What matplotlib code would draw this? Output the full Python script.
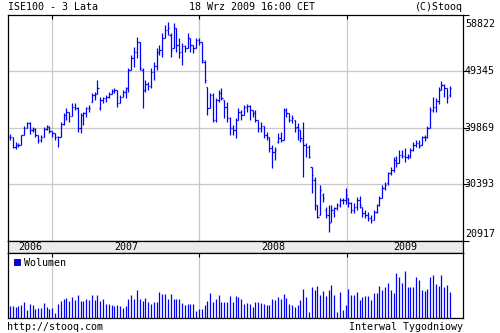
import matplotlib
matplotlib.use("Agg")
import matplotlib.pyplot as plt
import matplotlib.dates as mdates
import matplotlib.transforms as mtransforms
import pandas as pd
from matplotlib.patches import Rectangle

# weekly bars, ISE100, last 3 years
dates = pd.date_range("2006-09-18", periods=157, freq="7D")

opens = [38320, 38320, 36650, 36980, 36980, 38660, 39830, 40670, 39490, 39660,
         38660, 37820, 38320, 39660, 40000, 39330, 38990, 38320, 38320, 40500,
         42000, 42510, 41840, 43340, 43180, 39830, 42000, 42340, 43180, 44180,
         45350, 45520, 43180, 44510, 44850, 45020, 45520, 46020, 46190, 44010,
         45020, 45850, 46520, 49530, 51540, 52550, 54220, 49530, 46190, 47190,
         46860, 49200, 50200, 52550, 52880, 54890, 56230, 55390, 53220, 56560,
         53720, 52550, 53550, 53220, 54890, 53720, 53220, 54560, 54220, 50870,
         46690, 43180, 45350, 41170, 44510, 45690, 44510, 43340, 41500, 39830,
         39490, 41170, 42510, 42000, 43340, 43510, 42840, 42340, 41170, 39830,
         40160, 38660, 38320, 36480, 35810, 37490, 38160, 37820, 42840, 42340,
         41170, 41170, 40000, 39490, 37820, 36980, 36650, 33300, 31130, 26940,
         25270, 28620, 26110, 25270, 24100, 25600, 26440, 26940, 27780, 27780,
         28110, 27280, 26110, 26610, 27780, 26610, 25600, 25270, 24770, 24430,
         25770, 26940, 28110, 29790, 30620, 32300, 32800, 34470, 33970, 35310,
         35140, 34980, 35140, 36150, 36980, 37320, 36980, 38320, 38320, 39830,
         42840, 43340, 44350, 46190, 47020, 46520, 45350]
highs = [38820, 38320, 37490, 37320, 38660, 40160, 40830, 40830, 40000, 39830,
         38660, 38660, 40000, 40330, 40160, 39330, 38990, 38490, 40830, 42340,
         43180, 42510, 44010, 44010, 43340, 42340, 42510, 43340, 43680, 45690,
         45850, 47860, 45020, 45020, 45350, 45850, 46360, 46520, 46190, 45350,
         46190, 46690, 49870, 52040, 53380, 55060, 54220, 49870, 47860, 47530,
         49870, 50870, 53220, 53720, 55730, 57070, 57570, 55730, 57400, 56560,
         54890, 54050, 53720, 55730, 54890, 53720, 54890, 54890, 54220, 51210,
         46690, 45690, 45690, 44850, 46190, 46520, 44510, 44180, 41670, 40330,
         41500, 43180, 42840, 43680, 43850, 43680, 42840, 42840, 41170, 40830,
         40160, 39160, 38320, 36980, 36650, 38990, 39160, 43180, 43180, 42340,
         42000, 41170, 40670, 39490, 40830, 37320, 36980, 33300, 31630, 26940,
         30290, 28950, 26610, 26940, 26940, 26610, 27280, 28110, 28110, 29790,
         28110, 27440, 27280, 28280, 28450, 26610, 26110, 25770, 25270, 26110,
         27110, 28450, 30290, 30790, 32470, 33300, 34980, 35140, 36150, 36150,
         36480, 35480, 36480, 37490, 37820, 37820, 38490, 38660, 40160, 43340,
         45020, 44850, 46690, 47690, 47190, 46520, 46860]
lows = [37820, 36480, 36310, 36650, 36980, 38660, 39830, 38820, 39160, 38320,
        37320, 37490, 38320, 39490, 38990, 38320, 37820, 36650, 38320, 40330,
        41170, 40830, 41840, 42840, 39160, 38990, 40330, 41670, 42510, 44180,
        44510, 45520, 42840, 44010, 44180, 44850, 45520, 45690, 43340, 44010,
        45020, 44850, 45850, 49530, 50040, 51540, 49530, 43180, 45850, 46190,
        46520, 47860, 49530, 52040, 51710, 54890, 55390, 51710, 53220, 52550,
        51540, 50370, 52550, 53220, 52550, 52380, 53220, 53720, 50710, 47360,
        42000, 43180, 40830, 40830, 44180, 44510, 41500, 40830, 38660, 38660,
        38160, 41170, 41170, 42000, 42510, 41170, 41670, 40830, 39160, 39160,
        38160, 37820, 35810, 33130, 34470, 37320, 37490, 37820, 41670, 40830,
        40670, 39160, 37820, 37490, 31630, 34980, 34810, 28950, 26110, 24770,
        25270, 27440, 24770, 22420, 24100, 24930, 26110, 26610, 27110, 27110,
        26610, 25600, 25600, 26110, 26440, 24930, 24770, 24270, 23930, 24430,
        25600, 26780, 28110, 29450, 30290, 31960, 32470, 33300, 33970, 34810,
        34140, 34640, 34810, 35980, 36650, 36480, 36980, 37650, 38160, 39830,
        42510, 42510, 43850, 46190, 45020, 44010, 45020]
closes = [38320, 36650, 36980, 36980, 38660, 39830, 40670, 39490, 39660, 38660,
          37820, 38320, 39660, 40160, 39330, 38990, 38320, 38320, 40500, 42000,
          42510, 41840, 43340, 43180, 39830, 42000, 42340, 43180, 43180, 45350,
          45520, 46520, 44510, 44850, 45020, 45520, 46020, 46190, 44010, 45020,
          45850, 46520, 49530, 51540, 52550, 54220, 49870, 46190, 47190, 46860,
          49200, 50200, 52550, 52880, 54890, 56230, 56560, 52880, 56560, 53720,
          52550, 53550, 53220, 54890, 53720, 53220, 54560, 54220, 51210, 47860,
          43180, 45350, 41170, 44510, 45690, 44850, 43340, 41500, 39830, 39490,
          41170, 42510, 42000, 43340, 43510, 42840, 42340, 41170, 39830, 40160,
          38660, 38320, 36480, 35810, 36150, 38160, 37820, 42840, 42340, 41170,
          41500, 39830, 39490, 38160, 36980, 36650, 34980, 31960, 26940, 24930,
          29450, 28110, 25270, 23930, 26110, 26440, 26940, 27780, 27780, 28620,
          27280, 26110, 26610, 27780, 26940, 25600, 25270, 24770, 24430, 25770,
          26940, 28110, 29790, 30290, 32300, 32800, 34470, 33970, 35310, 35140,
          34980, 35140, 36150, 36980, 37320, 36820, 38320, 38160, 39830, 42840,
          43340, 44350, 46190, 47020, 46520, 45020, 46520]
volume = [11.7, 11.7, 11.0, 11.7, 12.7, 16.0, 7.7, 13.7, 12.7, 9.3,
          10.3, 10.3, 15.0, 11.0, 9.3, 10.3, 5.0, 14.3, 16.7, 18.7,
          20.0, 17.0, 21.0, 17.7, 22.7, 16.7, 16.7, 18.7, 17.7, 22.7,
          18.3, 22.7, 16.7, 19.3, 14.3, 13.7, 12.7, 11.7, 12.7, 11.7,
          10.0, 11.7, 19.3, 22.7, 18.7, 27.7, 19.3, 16.7, 20.3, 16.0,
          13.7, 16.0, 16.0, 26.0, 23.7, 23.7, 19.3, 23.7, 19.3, 19.3,
          19.3, 15.3, 12.7, 13.7, 13.7, 13.7, 6.7, 8.7, 8.7, 12.7,
          16.7, 25.0, 16.0, 18.7, 22.7, 16.0, 16.0, 16.0, 21.7, 16.0,
          21.7, 21.0, 19.3, 14.3, 15.3, 14.3, 10.7, 15.7, 15.7, 14.7,
          14.0, 13.3, 13.3, 19.0, 18.3, 20.7, 19.0, 24.0, 20.0, 14.0,
          13.3, 11.3, 13.3, 18.3, 29.0, 20.7, 5.7, 31.3, 28.3, 32.3,
          23.3, 26.7, 22.3, 28.3, 33.3, 23.3, 5.7, 26.3, 8.3, 13.3,
          29.0, 23.3, 23.3, 26.3, 18.3, 21.3, 22.3, 21.7, 18.3, 25.0,
          24.7, 32.3, 28.3, 31.3, 34.7, 28.3, 25.0, 44.7, 40.7, 34.7,
          46.7, 31.3, 31.3, 31.3, 40.7, 38.3, 28.3, 27.3, 29.0, 40.7,
          43.3, 34.3, 32.3, 43.3, 30.7, 33.3, 25.7]

price_levels = [20917, 30393, 39869, 49345, 58822]
years = ["2006", "2007", "2008", "2009"]
year_starts = ["2007-01-01", "2008-01-01", "2009-01-01"]

W, H = 500, 333
BLUE = "#0000ff"
GRID = "#c8c8c8"
FONT = "DejaVu Sans Mono"


def px_rect(x0, y0, x1, y1):
    return [x0 / W, 1 - y1 / H, (x1 - x0) / W, (y1 - y0) / H]


fig = plt.figure(figsize=(W / 100, H / 100), dpi=100)
fig.patch.set_facecolor("white")

ax = fig.add_axes(px_rect(8, 15, 463, 240.5))
ax_strip = fig.add_axes(px_rect(8, 240.5, 463, 253))
ax_vol = fig.add_axes(px_rect(8, 253, 463, 318))

x = mdates.date2num(dates)
week = 7.0
x_left = x[0] - 0.71 * week
x_right = x[0] + 160.64 * week
bounds = mdates.date2num(pd.to_datetime(year_starts))
tw = 0.45 * week

# price bars
ax.vlines(x, lows, highs, color=BLUE, lw=0.9)
ax.hlines(opens, x - tw, x, color=BLUE, lw=0.9)
ax.hlines(closes, x, x + tw, color=BLUE, lw=0.9)
ax.set_xlim(x_left, x_right)
ax.set_ylim(price_levels[0], price_levels[-1])
for lv in price_levels[1:-1]:
    ax.axhline(lv, color=GRID, lw=0.9, zorder=0)
for b in bounds:
    ax.axvline(b, color=GRID, lw=0.9, zorder=0)
ax.set_xticks(bounds)
ax.set_xticklabels([])
ax.tick_params(axis="x", direction="in", top=True, bottom=False, length=3, width=0.8, color="black")
ax.set_yticks(price_levels)
ax.set_yticklabels([])
ax.yaxis.tick_right()
ax.tick_params(axis="y", direction="out", right=True, left=False, length=4, width=0.8)
for lv in price_levels:
    dy = 0
    if lv == price_levels[-1]:
        dy = -9
    elif lv == price_levels[0]:
        dy = 6.5
    tr = mtransforms.offset_copy(ax.get_yaxis_transform(), fig=fig, y=dy, units="dots")
    ax.text(1.004, lv, str(lv), transform=tr, ha="left", va="center",
            fontsize=7.2, family=FONT)

# year strip
ax_strip.set_facecolor("#ebebeb")
ax_strip.set_xlim(x_left, x_right)
ax_strip.set_ylim(0, 1)
ax_strip.set_xticks([])
ax_strip.set_yticks([])
edges = [x_left] + list(bounds) + [x_right]
for i, yr in enumerate(years):
    ax_strip.text((edges[i] + edges[i + 1]) / 2, 0.45, yr, ha="center", va="center",
                  fontsize=7.2, family=FONT)

# volume
ax_vol.vlines(x, 0, volume, color=BLUE, lw=0.9)
ax_vol.set_xlim(x_left, x_right)
ax_vol.set_ylim(0, 65)
for b in bounds:
    ax_vol.axvline(b, color=GRID, lw=0.9, zorder=0)
ax_vol.set_xticks(bounds)
ax_vol.set_xticklabels([])
ax_vol.set_yticks([])
ax_vol.tick_params(axis="x", direction="in", top=True, bottom=False, length=3, width=0.8, color="black")

for a in (ax, ax_strip, ax_vol):
    for s in a.spines.values():
        s.set_linewidth(0.9)
        s.set_color("black")

fig.patches.append(Rectangle((14 / W, 1 - 265 / H), 6 / W, 6 / H, transform=fig.transFigure,
                             facecolor=BLUE, edgecolor="#000080", lw=0.6))
fig.text(24 / W, 1 - 262.5 / H, "Wolumen", ha="left", va="center", fontsize=7.2, family=FONT)

fig.text(8 / W, 1 - 7.5 / H, "ISE100 - 3 Lata", ha="left", va="center", fontsize=7.2, family=FONT)
fig.text(252 / W, 1 - 7.5 / H, "18 Wrz 2009 16:00 CET", ha="center", va="center", fontsize=7.2, family=FONT)
fig.text(463 / W, 1 - 7.5 / H, "(C)Stooq", ha="right", va="center", fontsize=7.2, family=FONT)
fig.text(7 / W, 1 - 327 / H, "http://stooq.com", ha="left", va="center", fontsize=7.2, family=FONT)
fig.text(463 / W, 1 - 327 / H, "Interwal Tygodniowy", ha="right", va="center", fontsize=7.2, family=FONT)

fig.savefig("out.png", dpi=100)
